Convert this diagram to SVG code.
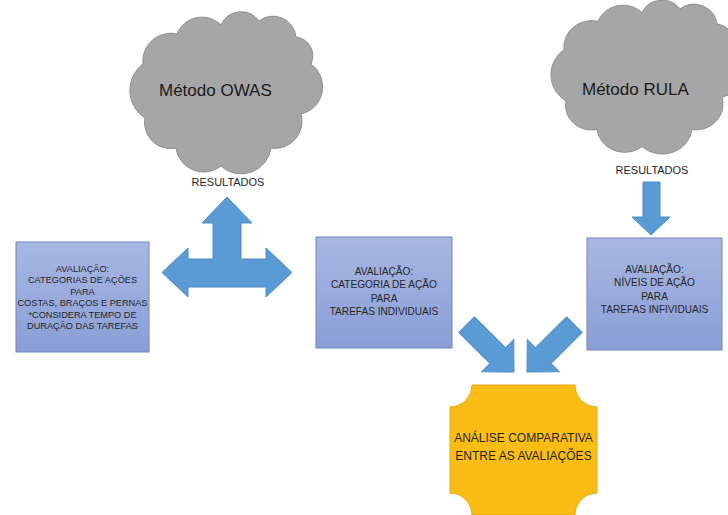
<svg xmlns="http://www.w3.org/2000/svg" xmlns:xlink="http://www.w3.org/1999/xlink" width="728" height="515" viewBox="0 0 728 515">
  <style>
    .cloud { fill: #a6a6a6; stroke: #8e8e8e; stroke-width: 1; }
    .box { fill: url(#boxGrad); stroke: #7085c3; stroke-width: 1; }
    .arrow { fill: #5b9bd5; stroke: #4f8cc6; stroke-width: 1; stroke-linejoin: miter; }
    .plaque { fill: #fbbd14; stroke: #e3aa10; stroke-width: 1; }
    text { font-family: "Liberation Sans", Arial, sans-serif; fill: #262626; text-anchor: middle; }
    .ctitle { font-size: 17px; text-anchor: start; fill: #1a1a1a; }
    .res { font-size: 11px; }
    .lt { font-size: 9.2px; }
    .mt { font-size: 10.1px; }
    .ot { font-size: 12px; }
  </style>
  <defs>
    <linearGradient id="boxGrad" x1="0" y1="0" x2="0" y2="1">
      <stop offset="0" stop-color="#a8b7e3"/>
      <stop offset="1" stop-color="#8a9ed6"/>
    </linearGradient>
    <path id="cloudShape" d="M 12,46 A 28 28 0 0 1 46,16 A 27 27 0 0 1 90,7 A 22 22 0 0 1 128,3 A 23 23 0 0 1 165,19 A 19 19 0 0 1 180,46 A 28 28 0 0 1 170,96 A 27 27 0 0 1 140,130 A 30 30 0 0 1 90,148 A 28 28 0 0 1 45,130 A 26 26 0 0 1 14,100 A 33 33 0 0 1 12,46 Z"/>
  </defs>

  <g id="cloud-owas">
    <use xlink:href="#cloudShape" class="cloud" transform="translate(131,18)"/>
    <text class="ctitle" x="159" y="96">Método OWAS</text>
  </g>

  <g id="cloud-rula">
    <use xlink:href="#cloudShape" class="cloud" transform="translate(552,6) scale(1,0.95)"/>
    <text class="ctitle" x="582" y="95">Método RULA</text>
  </g>

  <g id="label-resultados-owas">
    <text class="res" x="228" y="186">RESULTADOS</text>
  </g>
  <g id="label-resultados-rula">
    <text class="res" x="652" y="174">RESULTADOS</text>
  </g>

  <g id="connectors">
    <polygon class="arrow" points="227,197 252,223 241,223 241,259 266,259 266,248 292,272.5 266,297 266,287 188,287 188,297 162,272.5 188,248 188,259 213,259 213,223 202,223"/>
    <polygon class="arrow" points="643,182 660,182 660,217 670,217 651,235 632,217 643,217"/>
    <polygon class="arrow" transform="translate(514,372) rotate(45)" points="-67,-11 -23,-11 -23,-22.6 0,0 -23,22.6 -23,11 -67,11"/>
    <polygon class="arrow" transform="translate(527,372) rotate(135)" points="-67,-11 -23,-11 -23,-22.6 0,0 -23,22.6 -23,11 -67,11"/>
  </g>

  <g id="box-owas">
    <rect class="box" x="16" y="242" width="133" height="110"/>
    <text class="lt" x="82.5" y="271.5">AVALIAÇÃO:</text>
    <text class="lt" x="82.5" y="283">CATEGORIAS DE AÇÕES</text>
    <text class="lt" x="82.5" y="294.5">PARA</text>
    <text class="lt" x="82.5" y="306">COSTAS, BRAÇOS E PERNAS</text>
    <text class="lt" x="82.5" y="317.5">*CONSIDERA TEMPO DE</text>
    <text class="lt" x="82.5" y="329">DURAÇÃO DAS TAREFAS</text>
  </g>

  <g id="box-middle">
    <rect class="box" x="316" y="237" width="136" height="111"/>
    <text class="mt" x="384" y="274.5">AVALIAÇÃO:</text>
    <text class="mt" x="384" y="288">CATEGORIA DE AÇÃO</text>
    <text class="mt" x="384" y="301.5">PARA</text>
    <text class="mt" x="384" y="315">TAREFAS INDIVIDUAIS</text>
  </g>

  <g id="box-rula">
    <rect class="box" x="587" y="238" width="135" height="112"/>
    <text class="mt" x="654.5" y="272.5">AVALIAÇÃO:</text>
    <text class="mt" x="654.5" y="286">NÍVEIS DE AÇÃO</text>
    <text class="mt" x="654.5" y="299.5">PARA</text>
    <text class="mt" x="654.5" y="313">TAREFAS INFIVIDUAIS</text>
  </g>

  <g id="plaque-analise">
    <path class="plaque" d="M 472,385 H 575 A 22 22 0 0 0 597,407 V 493 A 22 22 0 0 0 575,515 H 472 A 22 22 0 0 0 450,493 V 407 A 22 22 0 0 0 472,385 Z"/>
    <text class="ot" x="523.5" y="442">ANÁLISE COMPARATIVA</text>
    <text class="ot" x="523.5" y="460">ENTRE AS AVALIAÇÕES</text>
  </g>
</svg>
